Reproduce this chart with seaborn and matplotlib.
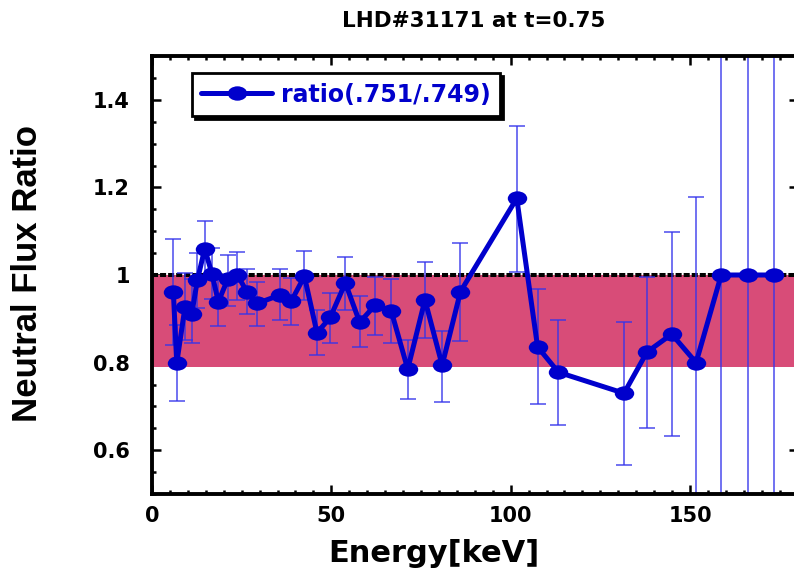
import numpy as np
import matplotlib
matplotlib.use("Agg")
import matplotlib.pyplot as plt
from matplotlib.path import Path
from matplotlib.transforms import Affine2D
from matplotlib.ticker import FixedLocator, MultipleLocator
import seaborn as sns

# Neutral flux ratio versus particle energy
energy = [5.95, 6.9, 9.2, 11.1, 12.65, 14.7, 16.7, 18.5, 21.1, 23.8, 26.45, 29.25,
          35.6, 38.8, 42.5, 46.0, 49.7, 53.9, 57.9, 62.3, 66.7, 71.3, 76.1, 80.9,
          86.0, 101.7, 107.5, 113.3, 131.6, 138.0, 144.9, 151.7, 158.7, 166.1, 173.4]
ratio = [0.962, 0.799, 0.927, 0.912, 0.988, 1.060, 1.003, 0.939, 0.990, 1.000, 0.962, 0.935,
         0.954, 0.940, 0.997, 0.868, 0.903, 0.982, 0.892, 0.932, 0.918, 0.785, 0.943, 0.794,
         0.962, 1.175, 0.836, 0.778, 0.730, 0.824, 0.865, 0.800, 1.000, 1.000, 1.000]
ratio_low = [0.841, 0.713, 0.852, 0.844, 0.925, 0.995, 0.945, 0.884, 0.930, 0.943, 0.911, 0.883,
             0.898, 0.886, 0.942, 0.817, 0.845, 0.920, 0.835, 0.864, 0.845, 0.717, 0.857, 0.711,
             0.849, 1.006, 0.706, 0.658, 0.567, 0.651, 0.633, 0.420, 0.000, 0.000, 0.000]
ratio_high = [1.083, 0.886, 1.005, 0.990, 1.050, 1.124, 1.062, 0.994, 1.045, 1.053, 1.014, 0.985,
              1.013, 0.994, 1.054, 0.921, 0.958, 1.042, 0.951, 0.996, 0.990, 0.851, 1.029, 0.873,
              1.074, 1.341, 0.967, 0.898, 0.892, 0.996, 1.099, 1.179, 2.000, 2.000, 2.000]

x_ticks = [0, 50, 100, 150]
x_tick_labels = ["0", "50", "100", "150"]
y_ticks = [0.6, 0.8, 1.0, 1.2, 1.4]
y_tick_labels = ["0.6", "0.8", "1", "1.2", "1.4"]
band_low, band_high = 0.79, 1.0
reference_level = 1.0
title_text = "LHD#31171 at t=0.75"
series_label = "ratio(.751/.749)"
x_title = "Energy[keV]"
y_title = "Neutral Flux Ratio"

sns.set_style("ticks")
plt.rcParams['font.family'] = ['DejaVu Sans']
plt.rcParams['font.weight'] = 'bold'
for key in ('text.color', 'axes.labelcolor', 'xtick.color', 'ytick.color', 'axes.edgecolor'):
    plt.rcParams[key] = 'black'

blue = '#0000CC'
band_color = '#D84C78'

W, H = 794, 571
fig = plt.figure(figsize=(W / 100, H / 100), dpi=100)
ax = fig.add_axes([152 / W, 77 / H, 645.6 / W, 438 / H])

# shaded range and unity reference
ax.axhspan(band_low, band_high, color=band_color, lw=0, zorder=1)
ax.axhline(reference_level, color='black', lw=2.9, ls=(0, (1.5, 0.5)), zorder=2)

e = np.array(energy)
r = np.array(ratio)
yerr = [r - np.array(ratio_low), np.array(ratio_high) - r]
ax.errorbar(e, r, yerr=yerr, fmt='none', ecolor=(0.2, 0.2, 0.92), elinewidth=1.3,
            capsize=5.5, capthick=1.3, alpha=0.75, zorder=3)

# ellipse-shaped marker, wider than tall
ellipse = Path.unit_circle().transformed(Affine2D().scale(1.0, 0.74))
sns.lineplot(x=energy, y=ratio, ax=ax, color=blue, linewidth=3.6, marker=ellipse,
             markersize=14, markeredgewidth=0, markerfacecolor=blue, zorder=4,
             label=series_label, sort=False)

ax.set_xlim(0, 180)
ax.set_ylim(0.5, 1.5)
ax.xaxis.set_major_locator(FixedLocator(x_ticks))
ax.set_xticklabels(x_tick_labels)
ax.xaxis.set_minor_locator(MultipleLocator(5))
ax.yaxis.set_major_locator(FixedLocator(y_ticks))
ax.set_yticklabels(y_tick_labels)
ax.yaxis.set_minor_locator(MultipleLocator(0.05))

for s in ax.spines.values():
    s.set_visible(True)
    s.set_linewidth(2.8)
    s.set_color('black')
    s.set_zorder(6)

ax.tick_params(which='both', direction='in', top=True, right=True, color='black',
               labelcolor='black')
ax.tick_params(which='major', length=6.5, width=1.8, labelsize=15)
ax.tick_params(which='minor', length=3.2, width=1.8)
ax.tick_params(axis='y', which='major', pad=16)
ax.tick_params(axis='x', which='major', pad=9)
for lab in ax.get_xticklabels() + ax.get_yticklabels():
    lab.set_fontweight('bold')

ax.set_xlabel("")
ax.set_ylabel("")

leg = ax.legend(loc='upper left', bbox_to_anchor=(0.062, 0.961), borderaxespad=0,
                frameon=True, fancybox=False, edgecolor='black', framealpha=1,
                shadow={'color': 'black', 'alpha': 1}, prop=dict(weight='bold', size=17),
                labelcolor=blue, handlelength=3.0, handletextpad=0.35, borderpad=0.4)
leg.get_frame().set_linewidth(2.0)
leg.set_zorder(7)

fig.text(474 / W, 1 - 21 / H, title_text, ha='center', va='center',
         fontsize=15.5, fontweight='bold', color='black')
fig.text(434 / W, 1 - 562 / H, x_title, ha='center', va='baseline',
         fontsize=22, fontweight='bold', color='black')
fig.text(28 / W, 1 - 273 / H, y_title, ha='center', va='center', rotation=90,
         fontsize=25, fontweight='bold', color='black',
         family=['Liberation Sans', 'DejaVu Sans'])

fig.savefig("out.png", dpi=100)
